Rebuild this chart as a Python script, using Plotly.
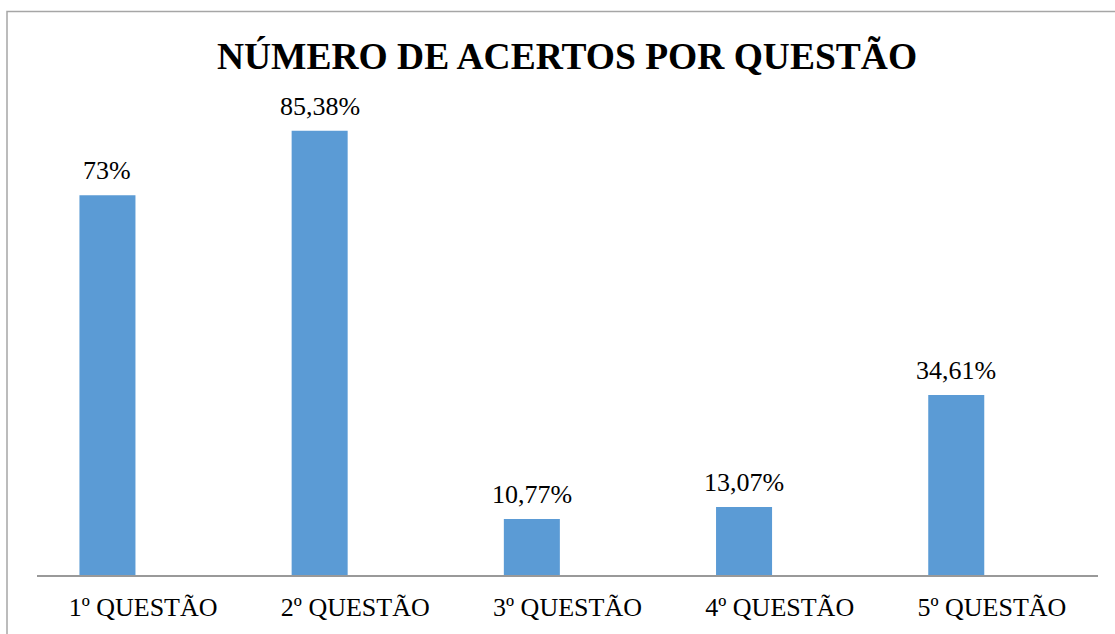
import plotly.graph_objects as go

categories = ["1º QUESTÃO", "2º QUESTÃO", "3º QUESTÃO", "4º QUESTÃO", "5º QUESTÃO"]
values = [73.0, 85.38, 10.77, 13.07, 34.61]
labels = ["73%", "85,38%", "10,77%", "13,07%", "34,61%"]
positions = list(range(len(categories)))

FONT = "Liberation Serif"
BAR_W = 0.264
BAR_SHIFT = -0.168  # bars sit left of category centre (as in the original)

fig = go.Figure()
fig.add_trace(go.Bar(
    x=positions, y=values, width=BAR_W, offset=BAR_SHIFT - BAR_W / 2,
    marker=dict(color="#5B9BD5", line=dict(width=0)),
    hoverinfo="skip",
))

for p, v, t in zip(positions, values, labels):
    fig.add_annotation(x=p + BAR_SHIFT, y=v, text=t, showarrow=False, yanchor="bottom",
                       yshift=8, font=dict(family=FONT, size=26, color="#000"))

W, H = 1115, 634
L, R, T, B = 37, 17, 100, 56
pw, ph = W - L - R, H - T - B

fig.add_shape(type="rect", xref="paper", yref="paper",
              x0=(7 - L) / pw, x1=(1125 - L) / pw,
              y0=-(H + 10 - (H - B)) / ph, y1=(H - B - 11) / ph,
              line=dict(color="#a6a6a6", width=1.5), fillcolor="rgba(0,0,0,0)")

fig.update_layout(
    width=W, height=H,
    margin=dict(l=L, r=R, t=T, b=B),
    paper_bgcolor="white", plot_bgcolor="white",
    showlegend=False,
    font=dict(family=FONT, color="#000"),
    title=dict(text="<b>NÚMERO DE ACERTOS POR QUESTÃO</b>", x=567 / W, xref="container",
               xanchor="center", y=1 - 56 / H, yref="container", yanchor="middle",
               font=dict(family=FONT, size=37.5, color="#000")),
    xaxis=dict(range=[-0.5, 4.5], tickvals=positions, ticktext=categories,
               showgrid=False, zeroline=False, showline=True, linecolor="#999999", linewidth=1.5,
               ticks="", ticklabelstandoff=8,
               tickfont=dict(family=FONT, size=26, color="#000")),
    yaxis=dict(range=[0, ph / 5.235], visible=False, showgrid=False, zeroline=False),
)

fig.write_html("out.html", config={"displayModeBar": False},
               post_script="document.body.style.margin='0';")
